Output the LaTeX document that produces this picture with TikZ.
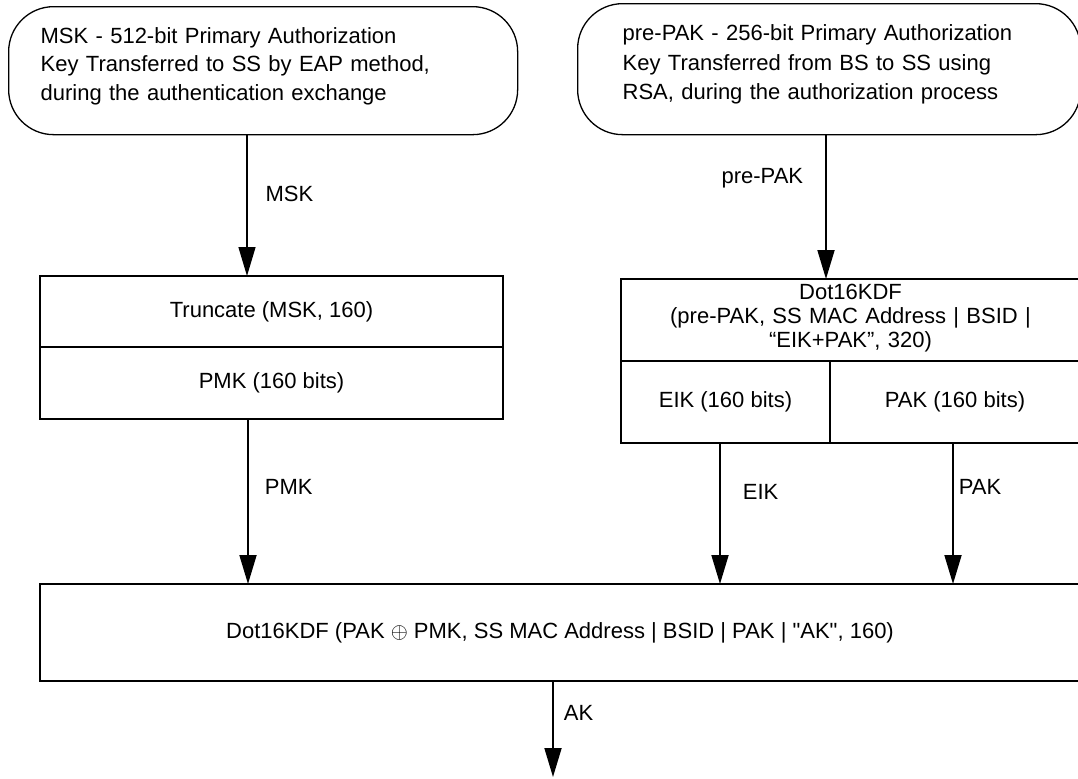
\documentclass[tikz,border=0pt]{standalone}
\usepackage{fontspec}
\setmainfont{Liberation Sans}
\usetikzlibrary{arrows.meta}

\newcommand{\liftby}[1]{\par\vspace{#1}\hrule height 0pt}

\begin{document}
\begin{tikzpicture}[x=0.5pt,y=-0.5pt,
  keybox/.style={draw,line width=0.65pt,rounded corners=22.5pt,anchor=north west,align=left},
  stagebox/.style={draw,line width=1pt,anchor=north west,align=center,inner sep=0pt,outer sep=0pt,font=\fontsize{11}{12}\selectfont},
  flow/.style={line width=0.9pt,-{Triangle[length=14.5pt,width=8.5pt]}},
  flowlabel/.style={inner sep=0pt,font=\fontsize{11}{13}\selectfont}]
  \useasboundingbox (0,0) rectangle (1078,778);
  \clip (0,0) rectangle (1078,778);
  % source keys
  \node[keybox,minimum width=254.5pt,minimum height=64pt,inner xsep=16pt,text width=222.5pt,font=\fontsize{11}{14.25}\selectfont] (msk) at (8,6)
    {MSK - 512-bit Primary Authorization\\Key Transferred to SS by EAP method,\\during the authentication exchange\liftby{4.5pt}};
  \node[keybox,minimum width=251.5pt,minimum height=65.5pt,inner xsep=22.5pt,text width=206.5pt,font=\fontsize{11}{14.75}\selectfont] (prepak) at (577,3)
    {pre-PAK - 256-bit Primary Authorization\\Key Transferred from BS to SS using\\RSA, during the authorization process\liftby{4.5pt}};
  % derivation steps
  \node[stagebox,minimum width=231.5pt,minimum height=35.5pt] (trunc) at (40,276) {Truncate (MSK, 160)};
  \node[stagebox,minimum width=231.5pt,minimum height=36pt,anchor=north] (pmk) at (trunc.south) {PMK (160 bits)};
  \node[stagebox,minimum width=229.5pt,minimum height=41pt,text width=229.5pt] (kdf) at (621,279)
    {Dot16KDF\\(pre-PAK, SS MAC Address | BSID |\\“EIK+PAK”, 320)\liftby{2pt}};
  \node[stagebox,minimum width=104.5pt,minimum height=41pt] (eik) at (621,361) {EIK (160 bits)};
  \node[stagebox,minimum width=125pt,minimum height=41pt] (pak) at (eik.north east) {PAK (160 bits)};
  \node[stagebox,minimum width=520pt,minimum height=48.5pt] (akkdf) at (40,584)
    {Dot16KDF (PAK $\oplus$ PMK, SS MAC Address | BSID | PAK | \textquotedbl AK\textquotedbl, 160)};
  % arrow columns
  \coordinate (mskcol) at (247,0);
  \coordinate (prepakcol) at (826,0);
  \coordinate (pmkcol) at (248,0);
  \coordinate (eikcol) at (720,0);
  \coordinate (pakcol) at (953,0);
  \coordinate (akout) at (553,777);
  \draw[flow,line width=0.65pt] (msk.south -| mskcol) -- node[flowlabel,pos=0.415,anchor=west,xshift=9pt] {MSK} (trunc.north -| mskcol);
  \draw[flow] (prepak.south -| prepakcol) -- node[flowlabel,pos=0.3,anchor=east,xshift=-11pt] {pre-PAK} (kdf.north -| prepakcol);
  \draw[flow] (pmk.south -| pmkcol) -- node[flowlabel,pos=0.41,anchor=west,xshift=8pt] {PMK} (akkdf.north -| pmkcol);
  \draw[flow] (eik.south -| eikcol) -- node[flowlabel,pos=0.35,anchor=west,xshift=11pt] {EIK} (akkdf.north -| eikcol);
  \draw[flow] (pak.south -| pakcol) -- node[flowlabel,pos=0.31,anchor=west,xshift=2.5pt] {PAK} (akkdf.north -| pakcol);
  \draw[flow] (akkdf.south -| akout) -- node[flowlabel,pos=0.33,anchor=west,xshift=5pt] {AK} (akout);
\end{tikzpicture}
\end{document}
